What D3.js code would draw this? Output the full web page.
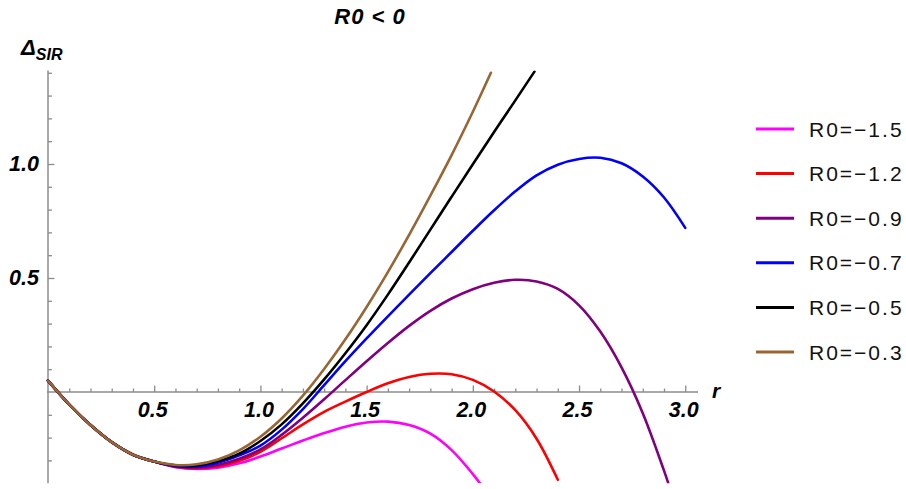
<!DOCTYPE html>
<html>
<head>
<meta charset="utf-8">
<script src="https://cdn.jsdelivr.net/npm/d3@7"></script>
<style>
  html, body { margin: 0; padding: 0; background: #fff; }
  svg { display: block; }
  .tl text { font-family: "Liberation Sans", Arial, sans-serif; font-weight: bold; font-style: italic; font-size: 21.5px; fill: #000; }
</style>
</head>
<body>
<svg id="chart" width="906" height="489"></svg>
<script>
// ---- data ----
const title = "R0 < 0";
const seriesLabels = ["R0=\u22121.5", "R0=\u22121.2", "R0=\u22120.9", "R0=\u22120.7", "R0=\u22120.5", "R0=\u22120.3"];
const seriesColors = ["#ff00ff", "#ff0000", "#800080", "#0000ff", "#000000", "#996633"];

const xMajorTicks = [0.5, 1.0, 1.5, 2.0, 2.5, 3.0];
const yMajorTicks = [0.5, 1.0];

// shared start of every curve (r = 0 ... 0.5)
const rCommon = [0, 0.1, 0.2, 0.3, 0.4, 0.5];
const yCommon = [0.05, -0.055, -0.145, -0.22, -0.275, -0.305];

// tails, from r = 0.6 onward
const rM15 = [0.6, 0.7, 0.8, 0.9, 1.0, 1.1, 1.2, 1.3, 1.4, 1.5, 1.6, 1.7, 1.8, 1.9, 2.0, 2.035];
const yM15 = [-0.33, -0.338, -0.332, -0.313, -0.283, -0.248, -0.213, -0.18, -0.152, -0.134, -0.13, -0.145, -0.183, -0.255, -0.36, -0.402];

const rM12 = [0.6, 0.7, 0.8, 0.9, 1.0, 1.1, 1.2, 1.3, 1.4, 1.5, 1.6, 1.7, 1.8, 1.9, 2.0, 2.1, 2.2, 2.3, 2.4];
const yM12 = [-0.328, -0.335, -0.326, -0.302, -0.262, -0.203, -0.142, -0.087, -0.042, 0.0, 0.038, 0.066, 0.08, 0.078, 0.053, 0.002, -0.08, -0.205, -0.385];

const rM09 = [0.6, 0.7, 0.8, 0.9, 1.0, 1.1, 1.2, 1.3, 1.4, 1.5, 1.6, 1.7, 1.8, 1.9, 2.0, 2.1, 2.2, 2.3, 2.4, 2.5, 2.6, 2.7, 2.8, 2.9, 2.92];
const yM09 = [-0.326, -0.332, -0.32, -0.293, -0.252, -0.188, -0.113, -0.032, 0.052, 0.135, 0.215, 0.29, 0.356, 0.41, 0.451, 0.479, 0.492, 0.485, 0.452, 0.38, 0.265, 0.108, -0.093, -0.345, -0.4];

const rM07 = [0.6, 0.7, 0.8, 0.9, 1.0, 1.1, 1.2, 1.3, 1.4, 1.5, 1.6, 1.7, 1.8, 1.9, 2.0, 2.1, 2.2, 2.3, 2.4, 2.5, 2.6, 2.7, 2.8, 2.9, 3.0];
const yM07 = [-0.325, -0.327, -0.31, -0.278, -0.235, -0.165, -0.075, 0.03, 0.135, 0.235, 0.332, 0.427, 0.521, 0.614, 0.707, 0.797, 0.88, 0.95, 0.997, 1.022, 1.027, 1.003, 0.945, 0.853, 0.72];

const rM05 = [0.6, 0.7, 0.8, 0.9, 1.0, 1.1, 1.2, 1.3, 1.4, 1.5, 1.6, 1.7, 1.8, 1.9, 2.0, 2.1, 2.2, 2.29];
const yM05 = [-0.322, -0.322, -0.303, -0.27, -0.215, -0.142, -0.05, 0.055, 0.17, 0.293, 0.427, 0.568, 0.712, 0.856, 0.999, 1.14, 1.279, 1.405];

const rM03 = [0.6, 0.7, 0.8, 0.9, 1.0, 1.1, 1.2, 1.3, 1.4, 1.5, 1.6, 1.7, 1.8, 1.9, 2.0, 2.085];
const yM03 = [-0.32, -0.317, -0.296, -0.256, -0.196, -0.116, -0.016, 0.101, 0.231, 0.373, 0.526, 0.689, 0.861, 1.039, 1.229, 1.40];

const tailsR = [rM15, rM12, rM09, rM07, rM05, rM03];
const tailsY = [yM15, yM12, yM09, yM07, yM05, yM03];

// ---- drawing ----
const svg = d3.select("#chart");
const x = d3.scaleLinear().domain([0, 3.06]).range([48, 698]);
const y = d3.scaleLinear().domain([-0.4, 1.41]).range([483.2, 70.5]);

const axisColor = "#8c8c8c";
const minorX = d3.range(1, 31).map(i => i / 10).filter(v => Math.abs(v * 2 - Math.round(v * 2)) > 1e-6);
const minorY = d3.range(-3, 15).map(i => i / 10).filter(v => Math.abs(v) > 1e-6 && Math.abs(v * 2 - Math.round(v * 2)) > 1e-6);

// x axis
const gx = svg.append("g").attr("transform", `translate(0,${y(0)})`);
gx.append("g").call(d3.axisBottom(x).tickValues(minorX).tickSize(-3.5).tickSizeOuter(0).tickFormat(""))
  .call(g => g.select(".domain").remove());
gx.append("g").attr("class", "tl")
  .call(d3.axisBottom(x).tickValues(xMajorTicks).tickSize(-6.5).tickSizeOuter(0).tickPadding(10).tickFormat(d3.format(".1f")))
  .call(g => g.select(".domain").attr("d", `M${x(0) - 1},0H${x(3.06)}`));
gx.selectAll("line").attr("stroke", axisColor).attr("stroke-width", 1.3);
gx.selectAll(".domain").attr("stroke", axisColor).attr("stroke-width", 1.5);
gx.selectAll("text").attr("dx", "-2");

// y axis
const gy = svg.append("g").attr("transform", `translate(${x(0)},0)`);
gy.append("g").call(d3.axisLeft(y).tickValues(minorY).tickSize(-4).tickSizeOuter(0).tickFormat(""))
  .call(g => g.select(".domain").remove());
gy.append("g").attr("class", "tl")
  .call(d3.axisLeft(y).tickValues(yMajorTicks).tickSize(-6.5).tickSizeOuter(0).tickPadding(9).tickFormat(d3.format(".1f")))
  .call(g => g.select(".domain").attr("d", `M0,${y(-0.4)}V${y(1.41)}`));
gy.selectAll("line").attr("stroke", axisColor).attr("stroke-width", 1.3);
gy.selectAll(".domain").attr("stroke", axisColor).attr("stroke-width", 1.5);

// clip
svg.append("clipPath").attr("id", "plotclip").append("rect")
  .attr("x", x(0) - 3).attr("y", y(1.41)).attr("width", x(3.06) - x(0) + 6).attr("height", y(-0.4) - y(1.41));

const line = d3.line().x(d => x(d[0])).y(d => y(d[1])).curve(d3.curveCatmullRom.alpha(0.5));
const plot = svg.append("g").attr("clip-path", "url(#plotclip)");
seriesLabels.forEach((lab, i) => {
  const pts = rCommon.map((r, k) => [r, yCommon[k]])
    .concat(tailsR[i].map((r, k) => [r, tailsY[i][k]]));
  plot.append("path").datum(pts)
    .attr("fill", "none").attr("stroke", seriesColors[i]).attr("stroke-width", 2.6)
    .attr("stroke-linejoin", "round").attr("stroke-linecap", "round")
    .attr("d", line);
});

// axis labels and title
const ital = "font-family:'Liberation Sans',Arial,sans-serif;font-weight:bold;font-style:italic;";
const ylab = svg.append("text").attr("x", 21).attr("y", 55).attr("style", ital).attr("fill", "#000");
ylab.append("tspan").attr("font-size", 22).text("\u0394");
ylab.append("tspan").attr("font-size", 16).attr("dy", 5).text("SIR");

svg.append("text").attr("x", 712).attr("y", 398).attr("style", ital).attr("font-size", 21).attr("fill", "#000").text("r");

svg.append("text").attr("x", 370).attr("y", 24).attr("text-anchor", "middle").attr("style", ital)
  .attr("font-size", 22).attr("letter-spacing", 1).attr("fill", "#000").text(title);

// legend
const leg = svg.append("g");
seriesLabels.forEach((lab, i) => {
  const yy = 129 + i * 44.6;
  leg.append("line").attr("x1", 756).attr("x2", 794).attr("y1", yy).attr("y2", yy)
    .attr("stroke", seriesColors[i]).attr("stroke-width", 3);
  leg.append("text").attr("x", 809).attr("y", yy).attr("dy", "0.36em")
    .attr("font-family", "'Liberation Sans', Arial, sans-serif").attr("font-size", 21)
    .attr("letter-spacing", 2).attr("fill", "#111").text(lab);
});
</script>
</body>
</html>
